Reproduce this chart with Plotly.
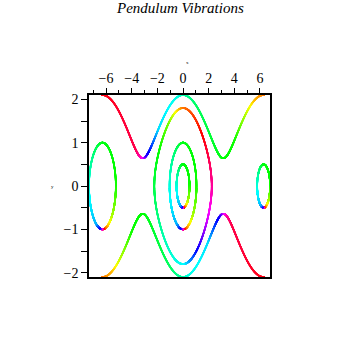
import numpy as np
import colorsys
import plotly.graph_objects as go

# ---- data: pendulum x' = y, y' = -sin(x); initial conditions and time range ----
x0_vals = [0.0, 0.0, 0.0, 0.0, 0.0, -2 * np.pi, 2 * np.pi]
y0_vals = [0.5, 1.0, 1.8, 2.1, -2.1, 1.0, 0.5]
curve_kind = ["loop", "loop", "bigloop", "top", "bottom", "loop", "loop"]
t_min, t_max = -5.0, 5.0
x_ticks = [-6, -4, -2, 0, 2, 4, 6]
y_ticks = [-2, -1, 0, 1, 2]

# ---- hue profiles (styling) ----
loop_s = [0, 45, 90, 135, 160, 172, 180, 190, 210, 270, 315, 360]
loop_h = [0.35, 0.34, 0.32, 0.22, 0.12, 0.05, -0.1, -0.3, -0.45, -0.52, -0.58, -0.65]
big_s = [0, 30, 60, 90, 120, 150, 180, 225, 270, 300, 330, 345, 360]
big_h = [0.08, 0.03, -0.03, -0.1, -0.2, -0.33, -0.5, -0.55, -0.62, -0.67, -0.75, -0.83, -0.92]
top_x = [-6.5, -3.72, -3.3, -3.08, -2.85, -2.3, -1.9, -0.34, 0, 1, 4.06, 4.6, 5.0, 5.6, 6.5]
top_h = [0.99, 0.95, 0.88, 0.82, 0.7, 0.6, 0.52, 0.48, 0.45, 0.4, 0.32, 0.25, 0.2, 0.12, 0.07]


def rhs(s):
    return np.array([s[1], -np.sin(s[0])])


def integrate(x0, y0, t_end, dt):
    n = int(round(abs(t_end) / dt))
    h = dt * np.sign(t_end)
    s = np.array([x0, y0], dtype=float)
    out = [s.copy()]
    for _ in range(n):
        k1 = rhs(s)
        k2 = rhs(s + 0.5 * h * k1)
        k3 = rhs(s + 0.5 * h * k2)
        k4 = rhs(s + h * k3)
        s = s + h / 6 * (k1 + 2 * k2 + 2 * k3 + k4)
        out.append(s.copy())
    return np.array(out)


def hue_to_rgb(h):
    r, g, b = colorsys.hsv_to_rgb(h % 1.0, 1.0, 1.0)
    return "rgb(%d,%d,%d)" % (round(r * 255), round(g * 255), round(b * 255))


fig = go.Figure()
dt = 0.004
for x0, y0, kind in zip(x0_vals, y0_vals, curve_kind):
    fwd = integrate(x0, y0, t_max, dt)
    bwd = integrate(x0, y0, t_min, dt)[::-1]
    pts = np.vstack([bwd[:-1], fwd])
    xs, ys = pts[:, 0], pts[:, 1]
    if kind in ("loop", "bigloop"):
        xa = np.max(np.abs(xs - x0))
        ya = np.max(np.abs(ys))
        theta = np.degrees(np.arctan2(ys / ya, (xs - x0) / xa))
        s = (90 - theta) % 360
        if kind == "loop":
            hues = np.interp(s, loop_s, loop_h)
        else:
            hues = np.interp(s, big_s, big_h)
    elif kind == "top":
        hues = np.interp(xs, top_x, top_h)
    else:
        hues = np.interp(-xs, top_x, top_h)
    cols = [hue_to_rgb(h) for h in hues]
    fig.add_trace(go.Scatter(x=xs, y=ys, mode="markers",
                             marker=dict(size=1.7, color=cols, line=dict(width=0)),
                             hoverinfo="skip", showlegend=False, cliponaxis=True))

serif = "Liberation Serif, Times New Roman, serif"
fig.update_layout(
    width=355, height=355,
    margin=dict(l=89, r=85, t=95, b=78),
    paper_bgcolor="white", plot_bgcolor="white",
    font=dict(family=serif, size=14, color="black"),
    showlegend=False,
    xaxis=dict(range=[-7.33, 6.78], side="top", tickvals=x_ticks,
               ticks="outside", ticklen=5, tickwidth=1, tickcolor="black",
               showline=True, linecolor="black", linewidth=1.5, mirror=True,
               showgrid=False, zeroline=False,
               minor=dict(tickvals=[-7, -5, -3, -1, 1, 3, 5], ticks="outside",
                          ticklen=3, tickcolor="black", showgrid=False),
               tickfont=dict(family=serif, size=14)),
    yaxis=dict(range=[-2.1, 2.1], tickvals=y_ticks,
               ticks="outside", ticklen=6, tickwidth=1, tickcolor="black",
               showline=True, linecolor="black", linewidth=1.5, mirror=True,
               showgrid=False, zeroline=False,
               minor=dict(tickvals=[-1.5, -0.5, 0.5, 1.5], ticks="outside",
                          ticklen=6, tickcolor="black", showgrid=False),
               tickfont=dict(family=serif, size=14)),
    annotations=[
        dict(text="<i>Pendulum Vibrations</i>", xref="paper", yref="paper",
             x=0.5, y=(277 - 8) / 182, xanchor="center", yanchor="middle",
             showarrow=False, font=dict(family=serif, size=15, color="black")),
        dict(text="x", xref="paper", yref="paper", x=(187 - 89) / 181,
             y=(277 - 63) / 182, xanchor="center", yanchor="middle",
             showarrow=False, font=dict(family=serif, size=5, color="black")),
        dict(text="y", xref="paper", yref="paper", x=(52 - 89) / 181,
             y=(277 - 186) / 182, xanchor="center", yanchor="middle",
             showarrow=False, font=dict(family=serif, size=5, color="black")),
    ],
)

fig.write_html("out.html")
